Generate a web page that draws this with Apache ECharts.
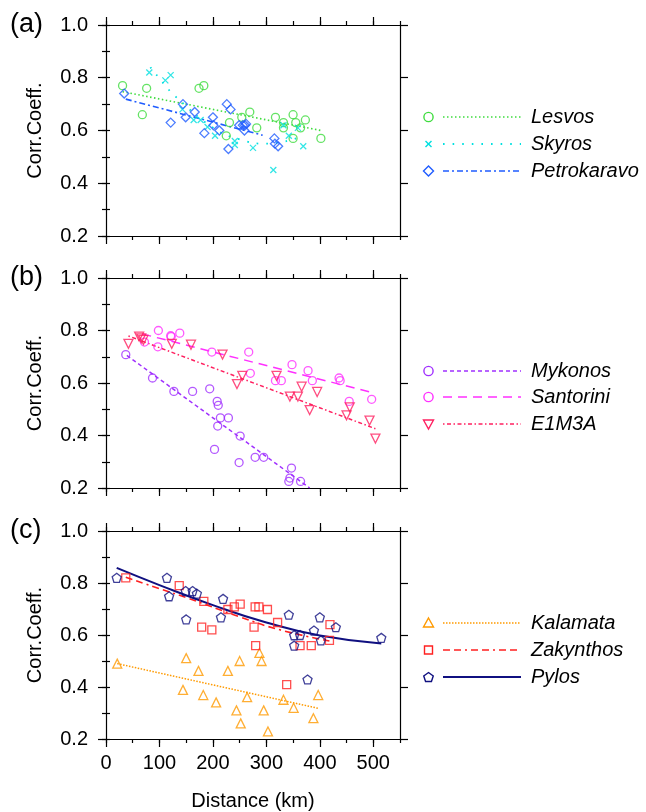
<!DOCTYPE html>
<html><head><meta charset="utf-8">
<script src="https://cdn.jsdelivr.net/npm/echarts@6/dist/echarts.min.js"></script>
<style>html,body{margin:0;padding:0;background:#fff}#c{width:646px;height:812px}</style>
</head><body><div id="c"></div>
<script>
// ---------- data ----------
const xTicks = [0,100,200,300,400,500];
const yTicks = [0.2,0.4,0.6,0.8,1.0];
const panelLabels = ['(a)','(b)','(c)'];
const xName = 'Distance (km)';
const yName = 'Corr.Coeff.';

// panel (a)
const lesvosX = [31,68,76,174,183,225,231,254,269,282,317,332,332,350,350,355,364,373,402];
const lesvosY = [0.77,0.66,0.76,0.76,0.77,0.58,0.63,0.65,0.67,0.61,0.65,0.63,0.61,0.66,0.57,0.63,0.61,0.64,0.57];
const lesvosFitX = [31,402];
const lesvosFitY = [0.747,0.600];
const skyrosX = [81,111,121,143,164,177,190,204,241,241,275,313,332,342,359,369];
const skyrosY = [0.82,0.79,0.81,0.68,0.64,0.64,0.613,0.58,0.56,0.545,0.534,0.45,0.62,0.58,0.61,0.54];
const skyrosFitX = [83,114,126,200,250,300,362];
const skyrosFitY = [0.84,0.763,0.736,0.611,0.566,0.55,0.575];
const petroX = [34,121,144,149,166,184,200,201,212,226,233,229,249,256,260,262,259,315,316,322];
const petroY = [0.74,0.63,0.70,0.65,0.67,0.59,0.65,0.62,0.60,0.70,0.68,0.53,0.62,0.62,0.62,0.625,0.60,0.57,0.55,0.54];
const petroFitX = [37,293];
const petroFitY = [0.719,0.582];

// panel (b)
const mykonosX = [37,87,127,162,194,203,208,210,209,214,229,249,251,279,295,342,344,347,364];
const mykonosY = [0.708,0.619,0.568,0.568,0.578,0.347,0.53,0.515,0.436,0.467,0.467,0.297,0.398,0.317,0.317,0.225,0.238,0.276,0.225];
const mykonosFitX = [39,381];
const mykonosFitY = [0.705,0.2];
const santoriniX = [72,97,98,121,122,138,198,267,270,317,328,348,378,386,436,438,455,497];
const santoriniY = [0.756,0.738,0.80,0.78,0.777,0.79,0.718,0.718,0.637,0.609,0.609,0.67,0.647,0.609,0.619,0.609,0.53,0.538];
const santoriniFitX = [68,499];
const santoriniFitY = [0.787,0.563];
const e1m3aX = [42,62,66,70,123,159,218,245,255,319,344,359,366,381,395,450,456,493,504];
const e1m3aY = [0.749,0.777,0.77,0.764,0.749,0.746,0.708,0.596,0.627,0.627,0.548,0.548,0.586,0.497,0.566,0.477,0.507,0.457,0.388];
const e1m3aFitX = [42,504];
const e1m3aFitY = [0.779,0.426];

// panel (c)
const kalamataX = [21,150,144,173,182,206,228,244,250,252,264,287,291,295,303,332,351,388,397];
const kalamataY = [0.49,0.511,0.389,0.462,0.369,0.341,0.462,0.31,0.50,0.26,0.361,0.531,0.50,0.31,0.229,0.351,0.32,0.28,0.369];
const kalamataFitX = [21,397];
const kalamataFitY = [0.49,0.318];
const zakynthosX = [37,137,183,179,198,228,240,251,279,286,277,280,302,321,338,363,384,419,418];
const zakynthosY = [0.82,0.79,0.729,0.63,0.62,0.698,0.708,0.719,0.708,0.708,0.63,0.559,0.698,0.648,0.409,0.559,0.559,0.64,0.579];
const zakynthosFitX = [37,100,150,250,325,418];
const zakynthosFitY = [0.822,0.778,0.744,0.670,0.620,0.577];
const pylosX = [20,114,118,149,150,162,170,219,215,352,352,363,342,389,400,402,430,377,515];
const pylosY = [0.82,0.82,0.749,0.769,0.66,0.769,0.759,0.739,0.668,0.599,0.559,0.60,0.678,0.617,0.668,0.579,0.630,0.429,0.589];
const pylosFitX = [20,100,200,300,400,515];
const pylosFitY = [0.858,0.792,0.715,0.648,0.598,0.567];

// ---------- styles ----------
const FONT = '"Liberation Sans", Arial, Helvetica, sans-serif';
const CROSS = 'path://M0,0L10,10M10,0L0,10';
const TRI_DOWN = 'path://M0,0L10,0L5,8.66Z';
const TRI_UP = 'path://M5,0L10,8.66L0,8.66Z';
const PENTA = 'path://M0,-10L9.51,-3.09L5.88,8.09L-5.88,8.09L-9.51,-3.09Z';

const panels = [
  {top:25, height:211, series:[
    {name:'Lesvos', x:lesvosX, y:lesvosY, fx:lesvosFitX, fy:lesvosFitY, color:'#3fdc3f', sym:'circle', size:8, dash:[1.5,2.5], w:1.6, smooth:false},
    {name:'Skyros', x:skyrosX, y:skyrosY, fx:skyrosFitX, fy:skyrosFitY, color:'#00e0e0', sym:CROSS, size:6, dash:[1.6,8], w:1.8, smooth:true},
    {name:'Petrokaravo', x:petroX, y:petroY, fx:petroFitX, fy:petroFitY, color:'#1f5cff', sym:'diamond', size:9, dash:[6,3,2,3], w:1.6, smooth:false}
  ]},
  {top:278, height:210, series:[
    {name:'Mykonos', x:mykonosX, y:mykonosY, fx:mykonosFitX, fy:mykonosFitY, color:'#a030ff', sym:'circle', size:8, dash:[4,3], w:1.5, smooth:false},
    {name:'Santorini', x:santoriniX, y:santoriniY, fx:santoriniFitX, fy:santoriniFitY, color:'#ff30ff', sym:'circle', size:8, dash:[9,6], w:1.5, smooth:false},
    {name:'E1M3A', x:e1m3aX, y:e1m3aY, fx:e1m3aFitX, fy:e1m3aFitY, color:'#ff2060', sym:TRI_DOWN, size:9, dash:[1.5,2.5,4,2.5], w:1.5, smooth:false}
  ]},
  {top:531, height:211, series:[
    {name:'Kalamata', x:kalamataX, y:kalamataY, fx:kalamataFitX, fy:kalamataFitY, color:'#ff9a00', sym:TRI_UP, size:9, dash:[1.5,1.5], w:1.5, smooth:false},
    {name:'Zakynthos', x:zakynthosX, y:zakynthosY, fx:zakynthosFitX, fy:zakynthosFitY, color:'#ff2020', sym:'rect', size:8, dash:[7,4,7,4,2,4], w:1.6, smooth:true},
    {name:'Pylos', x:pylosX, y:pylosY, fx:pylosFitX, fy:pylosFitY, color:'#101080', sym:PENTA, size:9, dash:null, w:2, smooth:true}
  ]}
];

const LEFT = 106, WIDTH = 294;
const grid = [], xAxis = [], yAxis = [], series = [], graphic = [];
const lineStyle = {color:'#000', width:1.2};

panels.forEach((p, gi) => {
  grid.push({left:LEFT, top:p.top, width:WIDTH, height:p.height, containLabel:false});
  const last = gi === 2;
  xAxis.push({gridIndex:gi, type:'value', min:0, max:550, interval:100, position:'bottom',
    axisLine:{show:true, onZero:false, lineStyle},
    axisTick:{show:true, length:8, inside:false, customValues:xTicks, lineStyle},
    axisLabel:{show:last, customValues:xTicks, fontSize:20, color:'#000', fontFamily:FONT, margin:14},
    splitLine:{show:false},
    name:last ? xName : '', nameLocation:'middle', nameGap:52,
    nameTextStyle:{fontSize:20, color:'#000', fontFamily:FONT}});
  xAxis.push({gridIndex:gi, type:'value', min:0, max:550, interval:50, position:'bottom',
    axisLine:{show:false}, axisTick:{show:true, length:4, lineStyle}, axisLabel:{show:false}, splitLine:{show:false}});
  xAxis.push({gridIndex:gi, type:'value', min:0, max:550, interval:100, position:'top',
    axisLine:{show:true, onZero:false, lineStyle},
    axisTick:{show:true, length:8, customValues:xTicks, lineStyle}, axisLabel:{show:false}, splitLine:{show:false}});
  xAxis.push({gridIndex:gi, type:'value', min:0, max:550, interval:50, position:'top',
    axisLine:{show:false}, axisTick:{show:true, length:4, lineStyle}, axisLabel:{show:false}, splitLine:{show:false}});
  yAxis.push({gridIndex:gi, type:'value', min:0.2, max:1.0, interval:0.2, position:'left',
    axisLine:{show:true, onZero:false, lineStyle},
    axisTick:{show:true, length:8, customValues:yTicks, lineStyle},
    axisLabel:{show:true, customValues:yTicks, formatter:v => Number(v).toFixed(1), fontSize:20, color:'#000', fontFamily:FONT, margin:18},
    splitLine:{show:false},
    name:yName, nameLocation:'middle', nameGap:61, nameRotate:90,
    nameTextStyle:{fontSize:20, color:'#000', fontFamily:FONT}});
  yAxis.push({gridIndex:gi, type:'value', min:0.2, max:1.0, interval:0.1, position:'left',
    axisLine:{show:false}, axisTick:{show:true, length:4, lineStyle}, axisLabel:{show:false}, splitLine:{show:false}});
  yAxis.push({gridIndex:gi, type:'value', min:0.2, max:1.0, interval:0.2, position:'right',
    axisLine:{show:true, onZero:false, lineStyle},
    axisTick:{show:true, length:8, customValues:yTicks, lineStyle}, axisLabel:{show:false}, splitLine:{show:false}});
  yAxis.push({gridIndex:gi, type:'value', min:0.2, max:1.0, interval:0.1, position:'right',
    axisLine:{show:false}, axisTick:{show:true, length:4, lineStyle}, axisLabel:{show:false}, splitLine:{show:false}});

  const xi = gi*4, yi = gi*4;
  p.series.forEach((s, si) => {
    series.push({type:'scatter', name:s.name, xAxisIndex:xi, yAxisIndex:yi,
      data:s.x.map((v,i)=>[v, s.y[i]]), symbol:s.sym, symbolSize:s.size,
      itemStyle:{color:'rgba(0,0,0,0)', borderColor:s.color, borderWidth:1.3}, z:3, silent:true});
    series.push({type:'line', name:s.name+' fit', xAxisIndex:xi, yAxisIndex:yi,
      data:s.fx.map((v,i)=>[v, s.fy[i]]), showSymbol:false, symbol:'none', smooth:s.smooth ? 0.5 : false,
      lineStyle:{color:s.color, width:s.w, type:s.dash || 'solid'}, z:2, silent:true, clip:true});

    // legend (graphic)
    const ly = [ [117,144,171], [371,397,424], [623,650,677] ][gi][si];
    const sx = 428.5;
    let symEl;
    const st = {fill:'none', stroke:s.color, lineWidth:1.4};
    if (s.sym === 'circle') symEl = {type:'circle', shape:{cx:sx, cy:ly, r:4.6}, style:st};
    else if (s.sym === 'diamond') symEl = {type:'polygon', shape:{points:[[sx,ly-5],[sx+5,ly],[sx,ly+5],[sx-5,ly]]}, style:st};
    else if (s.sym === 'rect') symEl = {type:'rect', shape:{x:sx-4, y:ly-4, width:8, height:8}, style:st};
    else if (s.sym === CROSS) symEl = {type:'group', children:[
      {type:'line', shape:{x1:sx-3, y1:ly-3, x2:sx+3, y2:ly+3}, style:st},
      {type:'line', shape:{x1:sx+3, y1:ly-3, x2:sx-3, y2:ly+3}, style:st}]};
    else if (s.sym === TRI_DOWN) symEl = {type:'polygon', shape:{points:[[sx-5,ly-4],[sx+5,ly-4],[sx,ly+5]]}, style:st};
    else if (s.sym === TRI_UP) symEl = {type:'polygon', shape:{points:[[sx,ly-5],[sx+5,ly+4],[sx-5,ly+4]]}, style:st};
    else {
      const pts = [];
      for (let k=0;k<5;k++){ const a = -Math.PI/2 + k*2*Math.PI/5; pts.push([sx+5*Math.cos(a), ly+0.5+5*Math.sin(a)]); }
      symEl = {type:'polygon', shape:{points:pts}, style:st};
    }
    graphic.push(symEl);
    graphic.push({type:'line', shape:{x1:443, y1:ly, x2:521, y2:ly},
      style:{stroke:s.color, lineWidth:s.w, lineDash:s.dash || null}});
    graphic.push({type:'text', x:531, y:ly, style:{text:s.name, font:'italic 20px ' + FONT, fill:'#000', textVerticalAlign:'middle', textAlign:'left'}});
  });
  graphic.push({type:'text', x:10, y:p.top, style:{text:panelLabels[gi], font:'27px ' + FONT, fill:'#000', textVerticalAlign:'middle', textAlign:'left'}});
});

const chart = echarts.init(document.getElementById('c'), null, {renderer:'canvas'});
chart.setOption({animation:false, backgroundColor:'#fff', grid, xAxis, yAxis, series, graphic});
</script>
</body></html>
